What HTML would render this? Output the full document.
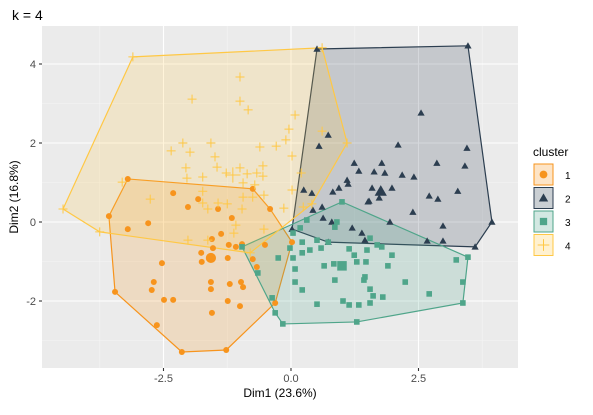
<!DOCTYPE html>
<html><head><meta charset="utf-8"><style>
body{margin:0;background:#fff;font-family:"Liberation Sans",sans-serif;}
svg text{font-family:"Liberation Sans",sans-serif;}
</style></head><body>
<svg id="c" width="593" height="410" xmlns="http://www.w3.org/2000/svg"></svg>
<script>
const clusters=["1","2","3","4"];
const colors=["#F7941D","#2C3E50","#4FA58A","#FFC845"];
const c1x=[-3.20,-0.75,0.02,-0.31,-1.27,-2.14,-3.45,-3.57,-2.31,-1.82,-2.02,-2.80,-3.20,-1.43,-1.16,-1.37,-1.22,-1.53,-1.55,-1.76,-1.75,-1.57,-1.57,-1.24,-0.75,-0.67,-0.98,-0.94,-1.20,-1.24,-1.00,-1.55,-2.53,-2.69,-2.73,-2.49,-2.31,-2.63,-0.96,-0.51,-0.41,-1.08];
const c1y=[1.09,0.84,-0.51,-2.05,-3.24,-3.29,-1.77,0.15,0.73,0.58,0.38,-0.03,-0.18,0.33,0.10,-0.30,-0.58,-0.66,-0.43,-0.78,-1.01,-1.52,-1.70,-0.91,-0.94,-1.14,-1.52,-1.65,-1.57,-2.00,-2.13,-2.30,-1.04,-1.52,-1.72,-1.97,-1.97,-2.61,-0.56,-0.58,0.33,-0.63];
const c2x=[0.51,3.47,3.94,3.61,1.45,0.73,0.02,2.55,2.10,3.45,2.86,3.41,1.24,1.78,1.33,1.63,1.84,2.18,2.41,1.10,1.12,0.94,0.82,1.59,1.98,1.73,1.53,2.71,2.88,3.27,2.39,0.73,0.55,0.25,0.41,0.61,0.63,0.43,0.80,1.94,2.98,1.20,1.39,2.67,2.98,1.51];
const c2y=[4.38,4.46,0,-0.63,-0.46,-0.51,-0.18,2.76,1.95,1.87,1.49,1.42,1.49,1.49,1.29,1.27,1.24,1.19,1.14,1.06,0.96,0.86,0.76,0.86,0.86,0.61,0.53,0.66,0.58,0.78,0.25,2.20,1.92,0.81,0.73,0.38,0.10,0.30,0,0,-0.10,-0.15,-0.28,-0.48,-0.48,0.51];
const c3x=[1.00,3.47,3.37,1.29,-0.16,-0.31,-0.96,0.18,0.31,0.90,0.86,0.04,0.22,0.51,0.73,1.55,1.69,1.78,-0.02,0.37,0.22,0.59,1.14,1.49,1.24,1.98,0.04,-0.25,3.24,1.47,1.29,0.84,0.65,1.90,0.08,1.45,1.43,0.86,2.24,0.08,3.37,0.22,1.55,1.61,1.80,2.71,-0.37,1.02,0.51,1.14,1.33,1.55,-0.65];
const c3y=[0.51,-0.89,-2.05,-2.53,-2.58,-2.30,-0.63,-0.15,0.05,0,-0.13,-0.28,-0.51,-0.46,-0.51,-0.41,-0.58,-0.63,-0.66,-0.71,-0.78,-0.66,-0.68,-0.71,-0.84,-0.84,-0.91,-0.91,-0.96,-1.01,-1.01,-1.06,-1.11,-1.11,-1.19,-1.39,-1.47,-1.47,-1.52,-1.52,-1.52,-1.72,-1.70,-1.87,-1.90,-1.82,-1.92,-2.00,-2.08,-2.10,-2.10,-2.05,-1.29];
const c4x=[-4.47,-3.10,0.61,1.10,0.41,-0.80,-3.75,-1.00,-1.94,-1.00,-0.84,0.08,-0.04,-0.10,-2.12,-1.57,-2.35,-1.98,-0.61,-0.29,-1.49,0.02,-2.06,-1.45,-0.55,-2.04,-1.73,-1.27,-1.00,-0.86,-0.67,-0.55,-0.94,-0.71,-1.73,-2.76,-3.31,-1.73,-1.43,-1.25,-1.63,-0.94,-0.75,-0.53,-0.96,0.02,-0.14,-1.08,-2.02,-1.63,-0.53,-1.12,0.20,0.24,0.61];
const c4y=[0.33,4.18,4.41,2.00,0.46,-0.78,-0.25,3.67,3.11,3.06,2.84,2.71,2.35,2.08,2.00,2.00,1.80,1.77,1.90,1.92,1.65,1.67,1.37,1.39,1.42,1.11,1.14,1.24,1.37,1.22,1.24,1.16,0.99,0.94,0.78,0.58,1.01,0.48,0.48,0.46,0.33,0.63,0.63,0.68,0.33,0.81,0.35,-0.08,-0.46,-0.46,-0.18,-0.28,1.24,0.38,2.30];
const centX=[-1.57,1.76,1.00,-1.14];
const centY=[-0.91,0.78,-1.11,1.19];
const xTicks=[-2.5,0,2.5];
const xTickLabels=["-2.5","0.0","2.5"];
const yTicks=[-2,0,2,4];
const yTickLabels=["-2","0","2","4"];

const L=42,R=518,T=26,B=368;
const xMin=-4.882,xMax=4.451,yMin=-3.696,yMax=4.962;
const sx=v=>L+(v-xMin)/(xMax-xMin)*(R-L);
const sy=v=>B-(v-yMin)/(yMax-yMin)*(B-T);
const NS="http://www.w3.org/2000/svg";
const svg=document.getElementById('c');
function mk(t,a,p){const e=document.createElementNS(NS,t);for(const k in a)e.setAttribute(k,a[k]);(p||svg).appendChild(e);return e;}

const bg=mk('rect',{x:L,y:T,width:R-L,height:B-T,fill:'#EBEBEB'});


// minor grid
[-3.75,-1.25,1.25,3.75].forEach(v=>{const l=mk('line',{x1:sx(v),x2:sx(v),y1:T,y2:B,stroke:'#F5F5F5','stroke-width':0.6});});
[-3,-1,1,3].forEach(v=>{const l=mk('line',{x1:L,x2:R,y1:sy(v),y2:sy(v),stroke:'#F5F5F5','stroke-width':0.6});});
xTicks.forEach((v,i)=>{
 const l=mk('line',{x1:sx(v),x2:sx(v),y1:T,y2:B,stroke:'#fff','stroke-width':1.1});
 
 const tk=mk('line',{x1:sx(v),x2:sx(v),y1:B,y2:B+3,stroke:'#333','stroke-width':1.1});
 
 const t=mk('text',{x:sx(v),y:B+14,'font-size':11,fill:'#4D4D4D','text-anchor':'middle'});t.textContent=xTickLabels[i];
 
});
yTicks.forEach((v,i)=>{
 const l=mk('line',{x1:L,x2:R,y1:sy(v),y2:sy(v),stroke:'#fff','stroke-width':1.1});
 
 const tk=mk('line',{x1:L-3,x2:L,y1:sy(v),y2:sy(v),stroke:'#333','stroke-width':1.1});
 
 const t=mk('text',{x:L-6,y:sy(v)+4,'font-size':11,fill:'#4D4D4D','text-anchor':'end'});t.textContent=yTickLabels[i];
 
});

function hull(xs,ys){
 const p=xs.map((x,i)=>[x,ys[i]]).sort((a,b)=>a[0]-b[0]||a[1]-b[1]);
 const cr=(o,a,b)=>(a[0]-o[0])*(b[1]-o[1])-(a[1]-o[1])*(b[0]-o[0]);
 const lo=[],up=[];
 for(const q of p){while(lo.length>=2&&cr(lo[lo.length-2],lo[lo.length-1],q)<=0)lo.pop();lo.push(q);}
 for(const q of p.slice().reverse()){while(up.length>=2&&cr(up[up.length-2],up[up.length-1],q)<=0)up.pop();up.push(q);}
 return lo.slice(0,-1).concat(up.slice(0,-1));
}
function shape(k,x,y,s,g){
 const col=colors[k];let e;
 if(k===0){e=mk('circle',{cx:x,cy:y,r:3*s,fill:col},g);}
 else if(k===1){const h=3.6*s;e=mk('polygon',{points:`${x},${y-h} ${x+h},${y+h*0.75} ${x-h},${y+h*0.75}`,fill:col},g);}
 else if(k===2){const h=2.8*s;e=mk('rect',{x:x-h,y:y-h,width:2*h,height:2*h,fill:col},g);}
 else {const h=4.5*s;e=mk('path',{d:`M${x-h},${y}H${x+h}M${x},${y-h}V${y+h}`,stroke:col,'stroke-width':1,fill:'none'},g);}
 return e;
}
const XS=[c1x,c2x,c3x,c4x],YS=[c1y,c2y,c3y,c4y];
const names=['cluster-1','cluster-2','cluster-3','cluster-4'];
XS.forEach((xs,k)=>{
 const h=hull(xs,YS[k]);
 const pg=mk('polygon',{points:h.map(p=>sx(p[0])+','+sy(p[1])).join(' '),fill:colors[k],'fill-opacity':0.2,stroke:colors[k],'stroke-width':1.2});
 
});
XS.forEach((xs,k)=>{
 const g=mk('g',{});
 
 xs.forEach((v,i)=>{const e=shape(k,sx(v),sy(YS[k][i]),1,g);
  });
 const c=shape(k,sx(centX[k]),sy(centY[k]),1.7,g);
 
});

let t=mk('text',{x:12,y:20,'font-size':14,fill:'#000'});t.textContent='k = 4';

t=mk('text',{x:(L+R)/2,y:397,'font-size':12,fill:'#000','text-anchor':'middle'});t.textContent='Dim1 (23.6%)';

t=mk('text',{x:0,y:0,'font-size':12,fill:'#000','text-anchor':'middle',transform:`translate(18,${(T+B)/2}) rotate(-90)`});t.textContent='Dim2 (16.8%)';

t=mk('text',{x:533,y:156,'font-size':12,fill:'#000'});t.textContent='cluster';

clusters.forEach((n,k)=>{
 const y0=164+k*23.5;
 const g=mk('g',{});
 
 mk('rect',{x:534,y:y0,width:19,height:21,fill:colors[k],'fill-opacity':0.25,stroke:colors[k],'stroke-width':1},g);
 shape(k,543.5,y0+10.5,1.3,g);
 const tx=mk('text',{x:565,y:y0+15,'font-size':10,fill:'#000'},g);tx.textContent=n;
});
</script>
</body></html>
